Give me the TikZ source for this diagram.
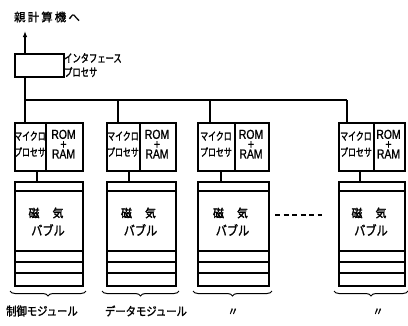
\documentclass[tikz,border=0pt]{standalone}
\usepackage{fontspec}
\setmainfont{Liberation Sans}
\newfontfamily\cjk[FakeBold=1.5]{Noto Sans CJK JP}
\newfontfamily\cjkn[FakeStretch=0.72,FakeBold=1.5]{Noto Sans CJK JP}
\newfontfamily\cjkm[FakeStretch=0.86,FakeBold=1.5]{Noto Sans CJK JP}
\newfontfamily\cjkb[FakeStretch=0.95,FakeBold=2.5]{Noto Sans CJK JP}
\newfontfamily\narrowf[FakeStretch=0.8,FakeBold=1]{Liberation Sans}
\usetikzlibrary{decorations.pathreplacing,arrows.meta}
\tikzset{
  box/.style={draw, line width=1.8pt, inner sep=0pt, anchor=north west},
  conn/.style={line width=1.2pt},
  inner/.style={line width=1.2pt},
  brc/.style={line width=1pt, decorate, decoration={brace, mirror, amplitude=5pt}},
  txt/.style={inner sep=0pt},
}
\begin{document}
\begin{tikzpicture}[x=1pt,y=-1pt]
\useasboundingbox (0,0) rectangle (408,325);
% interface processor
\node[box, minimum width=49pt, minimum height=23pt] (ifp) at (14,53) {};
\node[txt, anchor=west, font=\cjkn\fontsize{11.5}{11.5}\selectfont] (ifl1) at (64,58) {インタフェース};
\node[txt, anchor=west, font=\cjkn\fontsize{11.5}{11.5}\selectfont] (ifl2) at (64,72) {プロセサ};
\node[txt, font=\cjk\fontsize{11.5}{11.5}\selectfont\addfontfeature{LetterSpace=18}] (host) at (47,17) {親計算機へ};
\coordinate (up) at (25,31);
% modules
\foreach \i/\L/\R/\D/\dx/\lx in {1/14/82/45/25/37, 2/106/175/139/118/129, 3/197/268/234/210/221, 4/338/404/373/347/360}{
  \node[box, minimum width={(\D-\L)*1pt}, minimum height=48pt] (mpl\i) at (\L,122) {};
  \node[box, minimum width={(\R-\D)*1pt}, minimum height=48pt] (mpr\i) at (\D,122) {};
  \node[box, minimum width={(\R-\L)*1pt}, minimum height=104pt] (bb\i) at (\L,181) {};
  \coordinate (top\i) at (\dx,122);
  \coordinate (bus\i) at (\dx,100);
  \coordinate (lk\i) at (\lx,150);
  \draw[conn] (mpl\i.south -| lk\i) -- (bb\i.north -| lk\i);
  \draw[inner] (\L,191) -- (\R,191);
  \draw[inner] (\L,251) -- (\R,251);
  \draw[inner] (\L,262) -- (\R,262);
  \draw[inner] (\L,273) -- (\R,273);
  \node[txt, font=\cjkn\fontsize{11}{11}\selectfont] (mt\i) at ({(\L+\D)/2+0.5},136) {マイクロ};
  \node[txt, font=\cjkn\fontsize{11}{11}\selectfont] (mb\i) at ({(\L+\D)/2+0.5},152) {プロセサ};
  \node[txt, align=center, font=\narrowf\fontsize{13}{13}\selectfont] (mem\i) at ({(\D+\R)/2},144.1) {ROM\\[-3.2pt]+\\[-3.2pt]RAM};
  \node[txt, font=\cjkb\fontsize{11.5}{11.5}\selectfont] (ji\i) at ({(\L+\R)/2-14},213) {磁};
  \node[txt, font=\cjkb\fontsize{11.5}{11.5}\selectfont] (ki\i) at ({(\L+\R)/2+10},213) {気};
  \node[txt, font=\cjkm\fontsize{13}{13}\selectfont] (bu\i) at ({(\L+\R)/2},230) {バブル};
  \draw[brc] (\L-4,291) -- (\R+4,291);
}
% host link
\draw[conn, -{Latex[length=6pt,width=4.5pt]}] (ifp.north -| top1) -- (up);
\draw[conn] (ifp.south -| top1) -- (top1);
\draw[conn] (bus1) -- (bus4);
\draw[conn] (bus2) -- (top2);
\draw[conn] (bus3) -- (top3);
\draw[conn] (bus4) -- (top4);
% dashed
\coordinate (d1) at (275,215);
\coordinate (d2) at (322,215);
\draw[line width=1.4pt, dash pattern=on 5pt off 3.5pt] (d1) -- (d2);
% labels
\node[txt, font=\cjkm\fontsize{12}{12}\selectfont] (lab1) at (42,311) {制御モジュール};
\node[txt, font=\cjkm\fontsize{12}{12}\selectfont] (lab2) at (146,311) {データモジュール};
\node[txt, font=\cjk\fontsize{11}{11}\selectfont] (lab3) at (233,312) {〃};
\node[txt, font=\cjk\fontsize{11}{11}\selectfont] (lab4) at (378,312) {〃};
\end{tikzpicture}
\end{document}
